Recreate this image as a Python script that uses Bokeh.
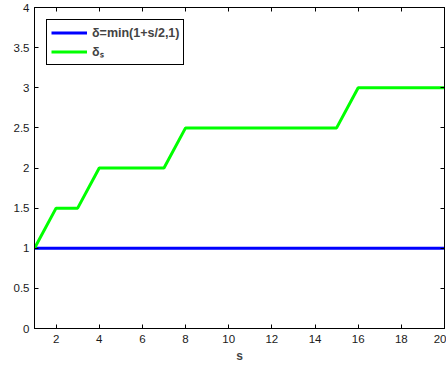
from bokeh.plotting import figure
from bokeh.models import Range1d, LinearAxis, FixedTicker, Legend, LegendItem
from bokeh.embed import file_html
from bokeh.resources import INLINE

s_vals = [1, 2, 3, 4, 5, 6, 7, 8, 9, 10, 11, 12, 13, 14, 15, 16, 17, 18, 19, 20]
delta_min = [1, 1, 1, 1, 1, 1, 1, 1, 1, 1, 1, 1, 1, 1, 1, 1, 1, 1, 1, 1]
delta_s = [1, 1.5, 1.5, 2, 2, 2, 2, 2.5, 2.5, 2.5, 2.5, 2.5, 2.5, 2.5, 2.5, 3, 3, 3, 3, 3]
x_ticks = [2, 4, 6, 8, 10, 12, 14, 16, 18, 20]
y_ticks = [0, 0.5, 1, 1.5, 2, 2.5, 3, 3.5, 4]
y_tick_labels = {0: "0", 0.5: "0.5", 1: "1", 1.5: "1.5", 2: "2", 2.5: "2.5", 3: "3", 3.5: "3.5", 4: "4"}

FONT = "Liberation Sans"

p = figure(width=446, height=367, output_backend="svg", toolbar_location=None,
           x_range=Range1d(1, 20), y_range=Range1d(0, 4),
           min_border_left=34, min_border_right=2, min_border_top=7, min_border_bottom=39)
p.xgrid.visible = False
p.ygrid.visible = False
p.outline_line_color = "black"
p.outline_line_width = 1
p.background_fill_color = "white"
p.border_fill_color = "white"

def style_axis(ax, labels=True):
    ax.axis_line_color = "black"
    ax.major_tick_line_color = "black"
    ax.major_tick_in = 4
    ax.major_tick_out = 0
    ax.minor_tick_line_color = None
    ax.major_label_text_font = FONT
    ax.major_label_text_font_size = "11.5px"
    ax.major_label_text_color = "#1a1a1a"
    if not labels:
        ax.major_label_text_font_size = "0px"
        ax.major_label_text_color = None

p.xaxis.ticker = FixedTicker(ticks=x_ticks)
p.yaxis.ticker = FixedTicker(ticks=y_ticks)
p.yaxis.major_label_overrides = y_tick_labels
style_axis(p.xaxis[0])
style_axis(p.yaxis[0])
p.xaxis.major_label_standoff = 6
p.yaxis.major_label_standoff = 5
p.xaxis.axis_label = "s"
p.xaxis.axis_label_text_font = FONT
p.xaxis.axis_label_text_font_style = "bold"
p.xaxis.axis_label_text_font_size = "12px"
p.xaxis.axis_label_standoff = 3

top = LinearAxis(ticker=FixedTicker(ticks=x_ticks))
style_axis(top, labels=False)
p.add_layout(top, "above")
right = LinearAxis(ticker=FixedTicker(ticks=y_ticks))
style_axis(right, labels=False)
p.add_layout(right, "right")

r1 = p.line(s_vals, delta_min, line_color="#0000FF", line_width=3)
r2 = p.line(s_vals, delta_s, line_color="#00FF00", line_width=3)

legend = Legend(items=[LegendItem(label="δ=min(1+s/2,1)", renderers=[r1]),
                       LegendItem(label="δₛ", renderers=[r2])],
                location="top_left")
legend.margin = 12
legend.padding = 4
legend.spacing = 2
legend.glyph_width = 36
legend.glyph_height = 17
legend.label_height = 17
legend.label_standoff = 5
legend.label_text_font = FONT
legend.label_text_font_style = "bold"
legend.label_text_font_size = "12.5px"
legend.border_line_color = "black"
legend.border_line_alpha = 1
legend.border_line_width = 1
legend.background_fill_alpha = 1
p.add_layout(legend)

open("out.html", "w").write(file_html(p, INLINE))
